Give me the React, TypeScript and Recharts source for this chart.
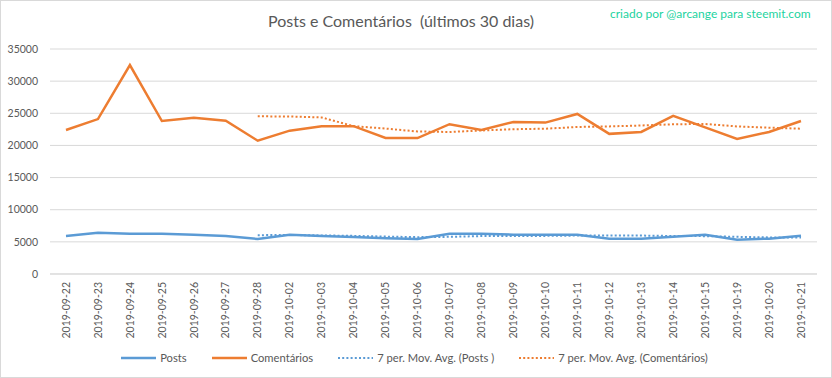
import { LineChart, Line, XAxis, YAxis, CartesianGrid, Legend } from "recharts";

const dias = [
  "2019-09-22", "2019-09-23", "2019-09-24", "2019-09-25", "2019-09-26", "2019-09-27",
  "2019-09-28", "2019-10-02", "2019-10-03", "2019-10-04", "2019-10-05", "2019-10-06",
  "2019-10-07", "2019-10-08", "2019-10-09", "2019-10-10", "2019-10-11", "2019-10-12",
  "2019-10-13", "2019-10-14", "2019-10-15", "2019-10-19", "2019-10-20", "2019-10-21",
];

const posts = [
  5900, 6420, 6270, 6270, 6110, 5900, 5440, 6110, 5900, 5750, 5550, 5440,
  6270, 6270, 6110, 6110, 6110, 5500, 5500, 5800, 6110, 5340, 5500, 5960,
];

const comentarios = [
  22400, 24100, 32500, 23800, 24300, 23850, 20730, 22300, 23000, 23000, 21150, 21150,
  23300, 22400, 23650, 23550, 24900, 21800, 22100, 24600, 22800, 21000, 22100, 23800,
];

// 7 per. moving averages as drawn (nothing before the 7th day)
const mediaPosts = [
  null, null, null, null, null, null, 6040, 6070, 6000, 5930, 5820, 5730,
  5780, 5900, 5900, 5930, 5980, 5970, 5980, 5910, 5890, 5780, 5690, 5670,
];

const mediaComentarios = [
  null, null, null, null, null, null, 24530, 24500, 24350, 23000, 22620, 22170,
  22090, 22330, 22520, 22600, 22870, 22960, 23100, 23290, 23340, 22960, 22760, 22600,
];

const yTicks = [0, 5000, 10000, 15000, 20000, 25000, 30000, 35000];

const data = dias.map((dia, i) => ({
  dia,
  posts: posts[i],
  comentarios: comentarios[i],
  mediaPosts: mediaPosts[i],
  mediaComentarios: mediaComentarios[i],
}));

const AZUL = "#5B9BD5";
const LARANJA = "#ED7D31";
const CINZA = "#595959";
const FONTE = "Lato, 'Open Sans', sans-serif";

function DiaTick({ x, y, payload }: any) {
  return (
    <g transform={`translate(${x},${y})`}>
      <text
        transform="rotate(-90)"
        textAnchor="end"
        dy="0.35em"
        fontSize={10.5}
        fill={CINZA}
        fontFamily={FONTE}
      >
        {payload.value}
      </text>
    </g>
  );
}

const itensLegenda = [
  { nome: "Posts", cor: AZUL, tracejado: undefined },
  { nome: "Comentários", cor: LARANJA, tracejado: undefined },
  { nome: "7 per. Mov. Avg. (Posts )", cor: AZUL, tracejado: "2 2.2" },
  { nome: "7 per. Mov. Avg. (Comentários)", cor: LARANJA, tracejado: "2 2.2" },
];

function Legenda() {
  return (
    <div
      style={{
        display: "flex",
        justifyContent: "center",
        gap: 25,
        fontFamily: FONTE,
        fontSize: 11.2,
        color: CINZA,
        paddingLeft: 12,
        paddingTop: 3,
      }}
    >
      {itensLegenda.map((item) => (
        <div key={item.nome} style={{ display: "flex", alignItems: "center", gap: 4 }}>
          <svg width={35} height={6}>
            <line
              x1={0}
              y1={3}
              x2={35}
              y2={3}
              stroke={item.cor}
              strokeWidth={item.tracejado ? 2 : 2.5}
              strokeDasharray={item.tracejado}
            />
          </svg>
          <span>{item.nome}</span>
        </div>
      ))}
    </div>
  );
}

export default function App() {
  return (
    <div
      style={{
        position: "relative",
        width: 830,
        height: 376,
        border: "1px solid #d9d9d9",
        background: "#fff",
        fontFamily: FONTE,
      }}
    >
      <style>{`body { margin: 0; }`}</style>
      <div
        style={{
          position: "absolute",
          top: 10,
          left: 0,
          width: 800,
          textAlign: "center",
          fontSize: 16,
          color: CINZA,
          whiteSpace: "pre",
        }}
      >
        {"Posts e Comentários  (últimos 30 dias)"}
      </div>
      <div style={{ position: "absolute", top: 5, left: 609, fontSize: 12, color: "#1DD3A0" }}>
        criado por @arcange para steemit.com
      </div>
      <div style={{ position: "absolute", top: -1, left: -1 }}>
        <LineChart width={832} height={378} data={data} margin={{ top: 49, right: 15, left: 0, bottom: 10 }}>
          <CartesianGrid vertical={false} stroke="#d9d9d9" />
          <XAxis
            dataKey="dia"
            interval={0}
            height={74}
            padding={{ left: 16, right: 16 }}
            axisLine={{ stroke: "#d9d9d9" }}
            tickLine={false}
            tick={<DiaTick />}
          />
          <YAxis
            width={50}
            domain={[0, 35000]}
            ticks={yTicks}
            axisLine={false}
            tickLine={false}
            tickMargin={6}
            tick={{ fontSize: 10.5, fill: CINZA, fontFamily: FONTE }}
          />
          <Legend verticalAlign="bottom" height={20} content={() => <Legenda />} />
          <Line dataKey="posts" name="Posts" stroke={AZUL} strokeWidth={2.5} dot={false} isAnimationActive={false} />
          <Line dataKey="comentarios" name="Comentários" stroke={LARANJA} strokeWidth={2.5} dot={false} isAnimationActive={false} />
          <Line
            dataKey="mediaPosts"
            name="7 per. Mov. Avg. (Posts )"
            stroke={AZUL}
            strokeWidth={2}
            strokeDasharray="2 2.2"
            dot={false}
            isAnimationActive={false}
          />
          <Line
            dataKey="mediaComentarios"
            name="7 per. Mov. Avg. (Comentários)"
            stroke={LARANJA}
            strokeWidth={2}
            strokeDasharray="2 2.2"
            dot={false}
            isAnimationActive={false}
          />
        </LineChart>
      </div>
    </div>
  );
}
